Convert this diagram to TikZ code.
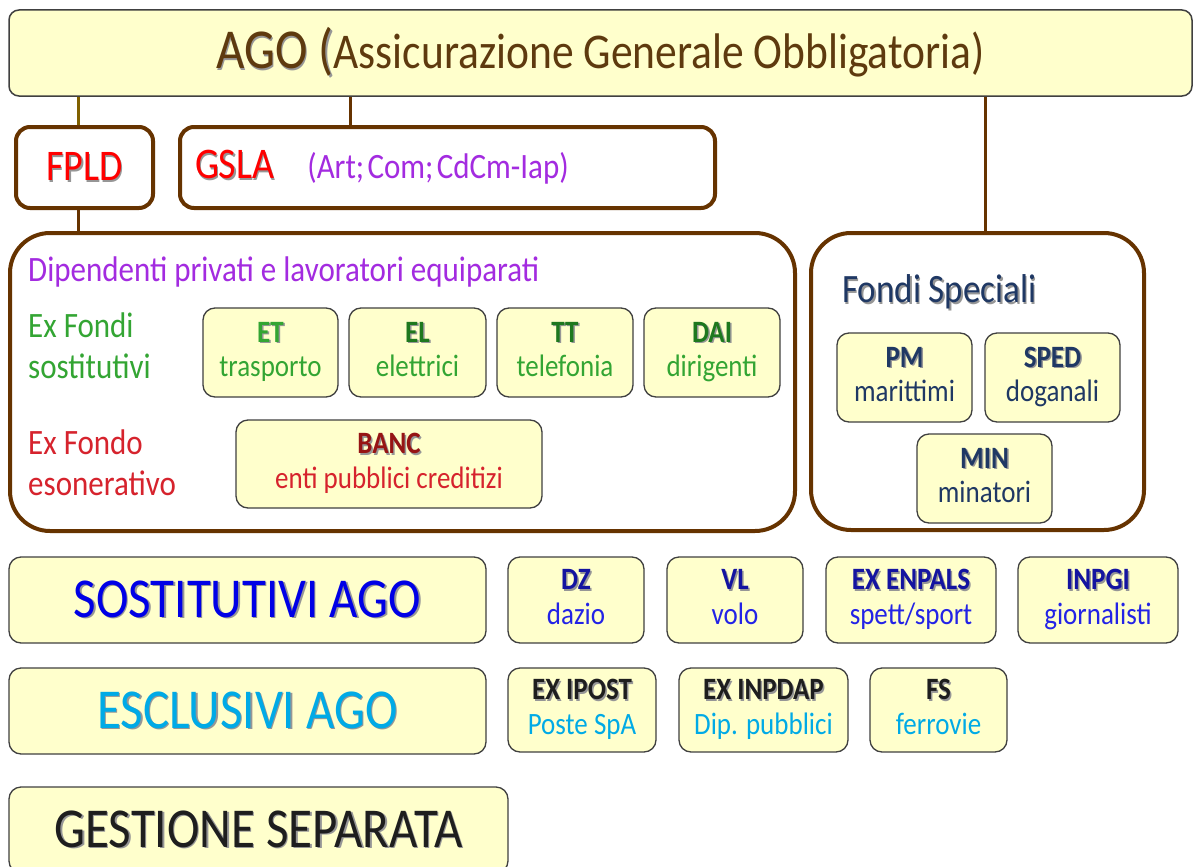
\documentclass[tikz,border=0pt]{standalone}
\usepackage{fontspec}
\setmainfont{Carlito}
\usepackage{graphicx}
\definecolor{yfill}{RGB}{255,255,204}
\definecolor{boxgray}{RGB}{64,64,64}
\definecolor{brownl}{RGB}{102,51,0}
\definecolor{olivel}{RGB}{128,96,0}
\definecolor{titlebrown}{RGB}{94,58,14}
\definecolor{fpred}{RGB}{255,0,0}
\definecolor{purp}{RGB}{163,43,224}
\definecolor{gr}{RGB}{51,165,51}
\definecolor{dgr}{RGB}{30,120,30}
\definecolor{exred}{RGB}{214,35,45}
\definecolor{dred}{RGB}{150,20,20}
\definecolor{navy}{RGB}{31,56,100}
\definecolor{bl}{RGB}{0,0,230}
\definecolor{dbl}{RGB}{20,20,160}
\definecolor{sbl}{RGB}{35,35,230}
\definecolor{cy}{RGB}{0,170,230}
\definecolor{dk}{RGB}{30,30,30}
\definecolor{shadowc}{RGB}{150,150,150}
\newcommand{\vs}[1]{\scalebox{1}[1.15]{#1}}
\newcommand{\shd}[1]{\makebox[0pt][l]{\hspace{1.5pt}\raisebox{-1.5pt}{\color{shadowc}#1}}#1}
\newcommand{\sbx}[4]{\scalebox{1}[1.15]{\begin{tabular}{@{}c@{}}{\bfseries\color{#1}\shd{#2}}\\{\color{#3}#4}\end{tabular}}}
\tikzset{
  ybox/.style={draw=boxgray, line width=1.3pt, fill=yfill, rounded corners=12pt, inner sep=0pt, align=center},
  smallbox/.style={ybox, font=\fontsize{27}{30}\selectfont},
  bigbox/.style={ybox, font=\fontsize{49}{55}\selectfont},
  bbox/.style={draw=brownl, line width=4pt, fill=white, inner sep=0pt},
  conn/.style={draw=brownl, line width=3pt},
  oconn/.style={draw=olivel, line width=3pt},
  lbl/.style={anchor=west, inner sep=0pt, align=left}
}
\begin{document}
\begin{tikzpicture}[x=1pt,y=-1pt]
\fill[white] (0,0) rectangle (1194,867);
\path[use as bounding box, clip] (0,0) rectangle (1194,867);

% top AGO box
\node[ybox, rounded corners=10pt, line width=1.5pt, minimum width=1183pt, minimum height=86pt, text=titlebrown] (ago) at (600.5,53)
  {\vs{{\fontsize{49}{55}\selectfont\shd{AGO (}}{\fontsize{43.5}{50}\selectfont Assicurazione Generale Obbligatoria)}}};

% FPLD & GSLA
\node[bbox, rounded corners=14pt, minimum width=137pt, minimum height=81pt, font=\fontsize{38}{42}\selectfont, text=fpred] (fpld) at (84.5,167.5) {\vs{\shd{FPLD}}};
\node[bbox, rounded corners=14pt, minimum width=535pt, minimum height=81pt, text width=505pt, align=left] (gsla) at (447.5,167.5)
  {\vs{{\fontsize{38}{42}\selectfont\color{fpred}\shd{GSLA}}\hspace{33pt}{\fontsize{31}{35}\selectfont\color{purp}(Art; Com; CdCm-Iap)}}};

% Dipendenti big box
\node[bbox, rounded corners=40pt, minimum width=785pt, minimum height=298pt] (dip) at (402.5,382) {};
\node[lbl, font=\fontsize{31}{35}\selectfont, text=purp] (diptitle) at (28,272) {\vs{Dipendenti privati e lavoratori equiparati}};
\node[lbl, font=\fontsize{31}{35}\selectfont, text=gr] (exfs) at (28,350) {\vs{\begin{tabular}{@{}l@{}}Ex Fondi\\sostitutivi\end{tabular}}};
\node[lbl, font=\fontsize{31}{35}\selectfont, text=exred] (exfe) at (28,467) {\vs{\begin{tabular}{@{}l@{}}Ex Fondo\\esonerativo\end{tabular}}};

\node[smallbox, minimum width=135pt, minimum height=89pt] (et) at (270.5,352.5) {\sbx{gr}{ET}{gr}{trasporto}};
\node[smallbox, minimum width=137pt, minimum height=89pt] (el) at (417.5,352.5) {\sbx{dgr}{EL}{gr}{elettrici}};
\node[smallbox, minimum width=136pt, minimum height=89pt] (tt) at (565,352.5) {\sbx{dgr}{TT}{gr}{telefonia}};
\node[smallbox, minimum width=136pt, minimum height=89pt] (dai) at (712,352.5) {\sbx{dgr}{DAI}{gr}{dirigenti}};
\node[smallbox, minimum width=306pt, minimum height=88pt] (banc) at (389,464) {\sbx{dred}{BANC}{exred}{enti pubblici creditizi}};

% Fondi Speciali
\node[bbox, rounded corners=40pt, minimum width=333pt, minimum height=297pt] (fondi) at (977.5,381.5) {};
\node[lbl, font=\fontsize{35}{40}\selectfont, text=navy] (fonditit) at (842,293) {\vs{\shd{Fondi Speciali}}};
\node[smallbox, minimum width=135pt, minimum height=89pt] (pm) at (904.5,377.5) {\sbx{navy}{PM}{navy}{marittimi}};
\node[smallbox, minimum width=135pt, minimum height=89pt] (sped) at (1052.5,377.5) {\sbx{navy}{SPED}{navy}{doganali}};
\node[smallbox, minimum width=135pt, minimum height=89pt] (min) at (984.5,478.5) {\sbx{navy}{MIN}{navy}{minatori}};

% connectors
\draw[oconn] ([xshift=-6.5pt]fpld.north) -- ([xshift=-6.5pt]fpld.north |- ago.south);
\draw[conn] ([xshift=-97.5pt]gsla.north) -- ([xshift=-97.5pt]gsla.north |- ago.south);
\draw[conn] ([xshift=7.5pt]fondi.north) -- ([xshift=7.5pt]fondi.north |- ago.south);
\draw[conn] ([xshift=-6.5pt]fpld.south) -- ([xshift=-6.5pt]fpld.south |- dip.north);

% Sostitutivi row
\node[bigbox, minimum width=477pt, minimum height=86pt, text=bl] (sost) at (247.5,600) {\vs{\shd{SOSTITUTIVI AGO}}};
\node[smallbox, minimum width=136pt, minimum height=86pt] (dz) at (576,600) {\sbx{dbl}{DZ}{sbl}{dazio}};
\node[smallbox, minimum width=136pt, minimum height=86pt] (vl) at (735,600) {\sbx{dbl}{VL}{sbl}{volo}};
\node[smallbox, minimum width=170pt, minimum height=86pt] (enpals) at (911,600) {\sbx{dbl}{EX ENPALS}{sbl}{spett/sport}};
\node[smallbox, minimum width=160pt, minimum height=86pt] (inpgi) at (1098,600) {\sbx{dbl}{INPGI}{sbl}{giornalisti}};

% Esclusivi row
\node[bigbox, minimum width=477pt, minimum height=86pt, text=cy] (escl) at (247.5,711) {\vs{\shd{ESCLUSIVI AGO}}};
\node[smallbox, minimum width=148pt, minimum height=84pt] (ipost) at (582,710) {\sbx{dk}{EX IPOST}{cy}{Poste SpA}};
\node[smallbox, minimum width=169pt, minimum height=84pt] (inpdap) at (763.5,710) {\sbx{dk}{EX INPDAP}{cy}{Dip. pubblici}};
\node[smallbox, minimum width=137pt, minimum height=84pt] (fs) at (938.5,710) {\sbx{dk}{FS}{cy}{ferrovie}};

% Gestione separata
\node[bigbox, minimum width=499pt, minimum height=86pt, text=dk] (gest) at (258.5,830) {\vs{\shd{GESTIONE SEPARATA}}};
\end{tikzpicture}
\end{document}
